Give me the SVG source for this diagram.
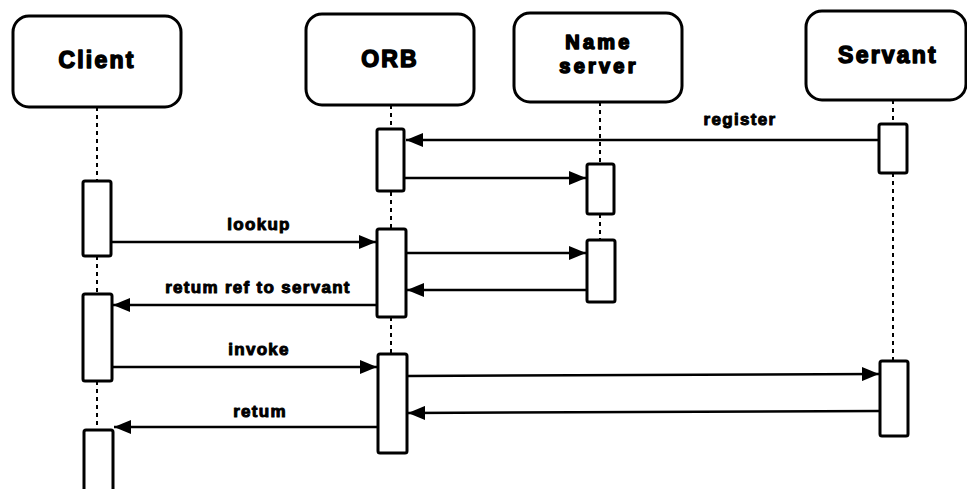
<svg xmlns="http://www.w3.org/2000/svg" width="967" height="489" viewBox="0 0 967 489">
<style>
.head{fill:#fff;stroke:#000;stroke-width:3}
.act{fill:#fff;stroke:#000;stroke-width:3}
.life{stroke:#000;stroke-width:2;stroke-dasharray:4 4;fill:none}
.msg{stroke:#000;stroke-width:2.5;fill:none;marker-end:url(#ah)}
.title{font-family:"Liberation Sans",Arial,sans-serif;font-weight:bold;font-size:23px;letter-spacing:2.2px;text-anchor:middle;fill:#000;stroke:#000;stroke-width:1.5;stroke-linejoin:round}
.title2{font-family:"Liberation Sans",Arial,sans-serif;font-weight:bold;font-size:20px;letter-spacing:3.2px;text-anchor:middle;fill:#000;stroke:#000;stroke-width:1.6;stroke-linejoin:round}
.lbl{font-family:"Liberation Sans",Arial,sans-serif;font-weight:bold;font-size:17px;letter-spacing:1.3px;text-anchor:middle;fill:#000;stroke:#000;stroke-width:1;stroke-linejoin:round}
</style>
<defs>
<marker id="ah" markerUnits="userSpaceOnUse" markerWidth="18" markerHeight="14" refX="17" refY="7" orient="auto">
<path d="M0,0 L17,7 L0,14 z" fill="#000"/>
</marker>
</defs>
<rect width="967" height="489" fill="#fff"/>
<g id="lifelines">
<line class="life" x1="97" y1="107" x2="97" y2="180"/>
<line class="life" x1="97" y1="256" x2="97" y2="293"/>
<line class="life" x1="97" y1="381" x2="97" y2="429"/>
<line class="life" x1="391" y1="105" x2="391" y2="128"/>
<line class="life" x1="391" y1="192" x2="391" y2="228"/>
<line class="life" x1="391" y1="317" x2="391" y2="353"/>
<line class="life" x1="600" y1="102" x2="600" y2="163"/>
<line class="life" x1="600" y1="214" x2="600" y2="239"/>
<line class="life" x1="893" y1="100" x2="893" y2="123"/>
<line class="life" x1="893" y1="173" x2="893" y2="361"/>
</g>
<g id="client">
<rect class="head" x="13" y="16" width="168" height="91" rx="16"/>
<text class="title" x="97" y="68">Client</text>
<rect class="act" x="83" y="181" width="28" height="75" rx="2"/>
<rect class="act" x="83" y="294" width="29" height="87" rx="2"/>
<rect class="act" x="84" y="430" width="29" height="65" rx="2"/>
</g>
<g id="orb">
<rect class="head" x="306" y="14" width="168" height="91" rx="16"/>
<text class="title" x="390" y="67">ORB</text>
<rect class="act" x="377" y="129" width="27" height="62" rx="2"/>
<rect class="act" x="377" y="229" width="29" height="88" rx="2"/>
<rect class="act" x="378" y="354" width="29" height="99" rx="2"/>
</g>
<g id="nameserver">
<rect class="head" x="514" y="13" width="168" height="89" rx="16"/>
<text class="title2" x="599" y="49">Name</text>
<text class="title2" x="599" y="73">server</text>
<rect class="act" x="587" y="164" width="27" height="50" rx="2"/>
<rect class="act" x="587" y="240" width="28" height="62" rx="2"/>
</g>
<g id="servant">
<rect class="head" x="806" y="11" width="160" height="89" rx="16"/>
<text class="title" x="888" y="63">Servant</text>
<rect class="act" x="879" y="124" width="28" height="49" rx="2"/>
<rect class="act" x="880" y="361" width="28" height="75" rx="2"/>
</g>
<g id="connectors">
<line class="msg" x1="878" y1="140" x2="406" y2="140"/>
<text class="lbl" x="740" y="125">register</text>
<line class="msg" x1="405" y1="178" x2="586" y2="178"/>
<line class="msg" x1="112" y1="242" x2="376" y2="242"/>
<text class="lbl" x="259" y="230">lookup</text>
<line class="msg" x1="406" y1="253" x2="586" y2="253"/>
<line class="msg" x1="586" y1="290" x2="407" y2="290"/>
<line class="msg" x1="377" y1="305" x2="113" y2="305"/>
<text class="lbl" x="258" y="293">retum ref to servant</text>
<line class="msg" x1="113" y1="367" x2="377" y2="367"/>
<text class="lbl" x="259" y="355">invoke</text>
<line class="msg" x1="407" y1="376" x2="879" y2="374"/>
<line class="msg" x1="880" y1="411" x2="408" y2="413"/>
<line class="msg" x1="378" y1="427" x2="114" y2="427"/>
<text class="lbl" x="260" y="417">retum</text>
</g>
</svg>
